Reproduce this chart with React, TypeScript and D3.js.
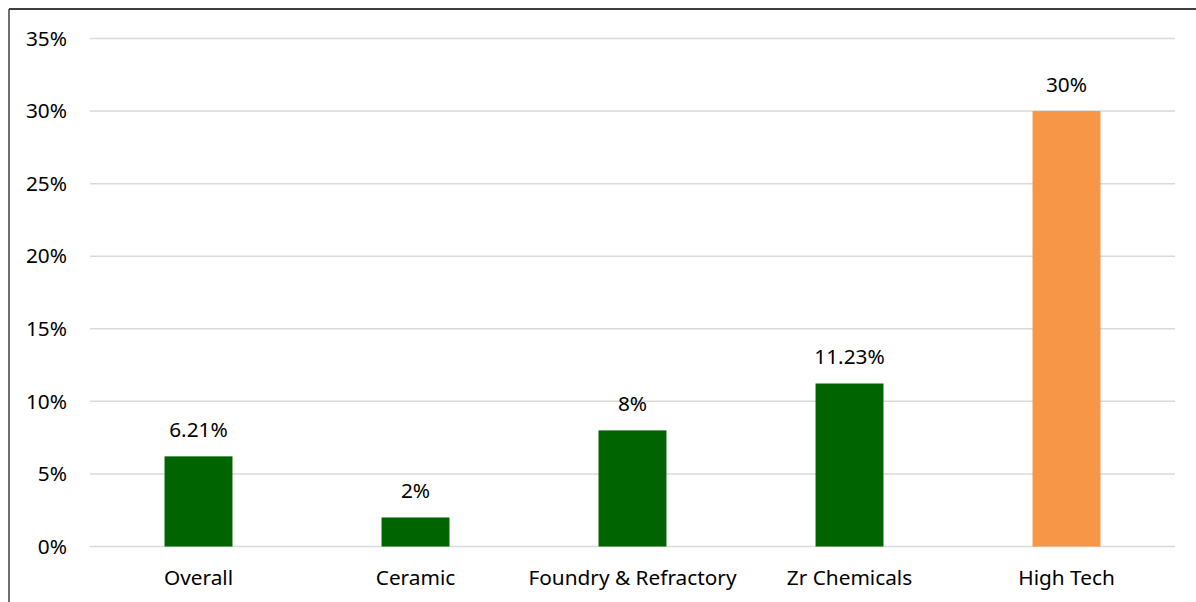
import * as React from "react";
import { scaleBand, scaleLinear } from "d3";

const categories = ["Overall", "Ceramic", "Foundry & Refractory", "Zr Chemicals", "High Tech"];
const values = [6.21, 2, 8, 11.23, 30];
const valueLabels = ["6.21%", "2%", "8%", "11.23%", "30%"];
const yTicks = [0, 5, 10, 15, 20, 25, 30, 35];
const barColors = ["#006400", "#006400", "#006400", "#006400", "#F79646"];

export default function App() {
  const width = 1196;
  const height = 602;
  const left = 90;
  const right = 1175;
  const top = 38.5;
  const bottom = 546.5;

  const xScale = scaleBand<string>()
    .domain(categories)
    .range([left, right])
    .paddingInner(0.687)
    .paddingOuter(0.3435);

  const yScale = scaleLinear().domain([0, 35]).range([bottom, top]);

  const font = "'Noto Sans', 'Open Sans', sans-serif";
  const fs = 20.8;

  return (
    <svg
      width={width}
      height={height}
      style={{ position: "absolute", left: 0, top: 0, background: "#fff", fontFamily: font }}
    >
      <line x1={9} x2={width} y1={9} y2={9} stroke="#000" strokeWidth={1.5} />
      <line x1={9} x2={9} y1={9} y2={height} stroke="#404040" strokeWidth={1.5} />
      {yTicks.map((t) => (
        <g key={t}>
          <line x1={left} x2={right} y1={yScale(t)} y2={yScale(t)} stroke="#d9d9d9" strokeWidth={1.5} />
          <text x={67} y={yScale(t)} dy="0.35em" textAnchor="end" fontSize={fs} fill="#000">
            {`${t}%`}
          </text>
        </g>
      ))}
      {categories.map((c, i) => {
        const x = xScale(c) ?? 0;
        const y = yScale(values[i]);
        const cx = x + xScale.bandwidth() / 2;
        return (
          <g key={c}>
            <rect x={x} y={y} width={xScale.bandwidth()} height={bottom - y} fill={barColors[i]} />
            <text x={cx} y={y - 26.5} dy="0.35em" textAnchor="middle" fontSize={fs} fill="#000">
              {valueLabels[i]}
            </text>
            <text x={cx} y={577.5} dy="0.35em" textAnchor="middle" fontSize={fs} fill="#000">
              {c}
            </text>
          </g>
        );
      })}
    </svg>
  );
}
